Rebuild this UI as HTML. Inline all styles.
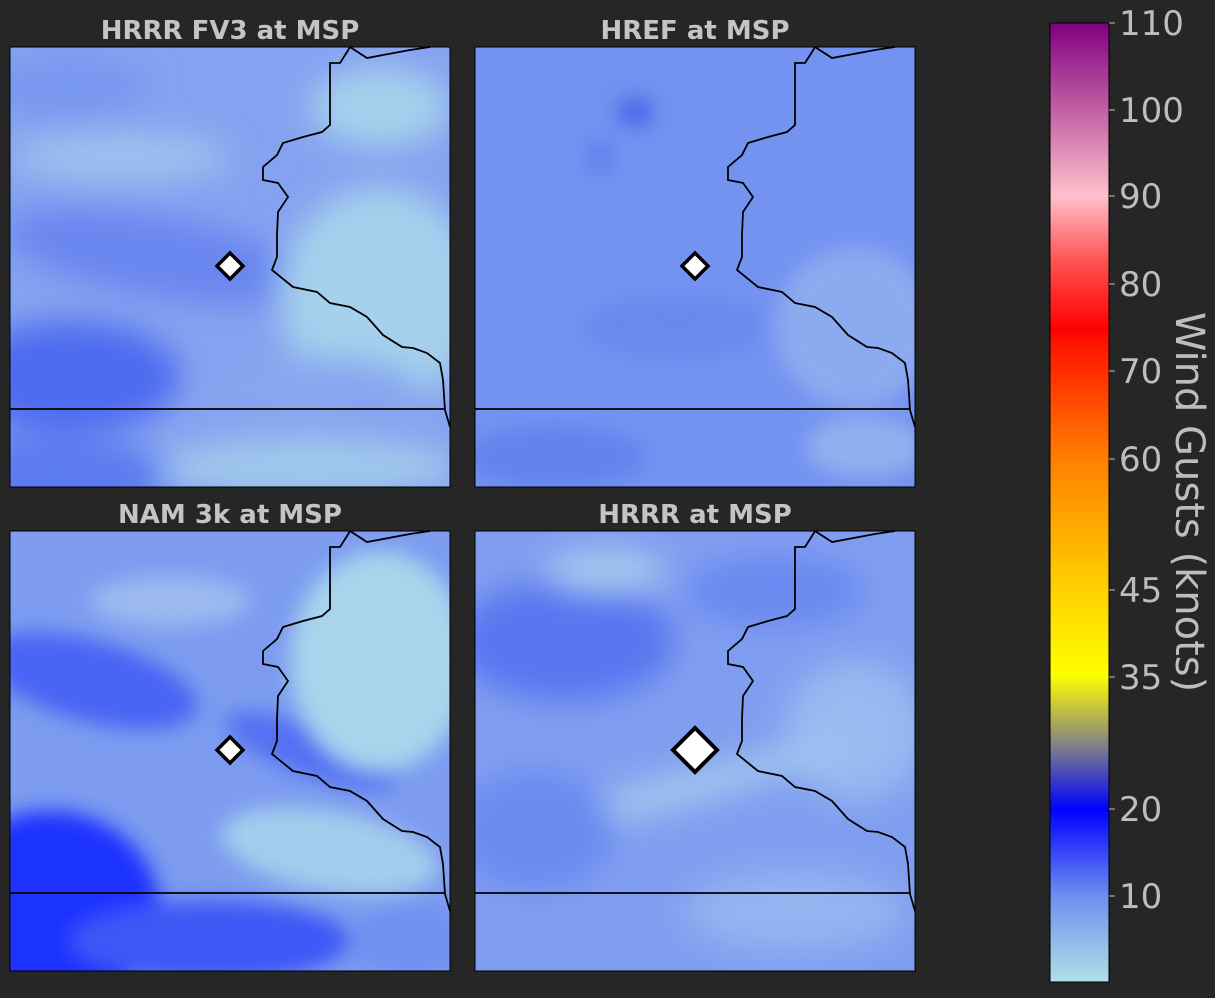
<!DOCTYPE html>
<html><head><meta charset="utf-8">
<style>
html,body{margin:0;padding:0;background:#262626;}
body{width:1215px;height:993px;overflow:hidden;font-family:"Liberation Sans","DejaVu Sans",sans-serif;}
svg text{font-family:"DejaVu Sans","Liberation Sans",sans-serif;}
</style></head>
<body>
<svg width="1215" height="993" viewBox="0 0 1215 993" xmlns="http://www.w3.org/2000/svg">
<defs>
  <filter id="blur" x="-20%" y="-20%" width="140%" height="140%"><feGaussianBlur stdDeviation="16"/></filter>
  <filter id="blur2" x="-20%" y="-20%" width="140%" height="140%"><feGaussianBlur stdDeviation="10"/></filter>
  <clipPath id="clip"><rect x="0" y="0" width="440" height="440"/></clipPath>
  <linearGradient id="cbar" x1="0" y1="1" x2="0" y2="0">
    <stop offset="0" stop-color="#b0e0e6"/>
    <stop offset="0.09" stop-color="#6f8ef0"/>
    <stop offset="0.18" stop-color="#0000ff"/>
    <stop offset="0.245" stop-color="#7e7e8a"/>
    <stop offset="0.32" stop-color="#ffff00"/>
    <stop offset="0.41" stop-color="#ffd000"/>
    <stop offset="0.545" stop-color="#ff8000"/>
    <stop offset="0.67" stop-color="#ff1000"/>
    <stop offset="0.68" stop-color="#ff0000"/>
    <stop offset="0.75" stop-color="#ff5050"/>
    <stop offset="0.82" stop-color="#ffc0cb"/>
    <stop offset="0.9" stop-color="#c86aa8"/>
    <stop offset="1" stop-color="#800080"/>
  </linearGradient>
</defs>

<!-- Panel 1 -->
<g transform="translate(10,47)">
  <g clip-path="url(#clip)">
    <rect width="440" height="440" fill="#85a2f0"/>
    <g filter="url(#blur)">
      <ellipse cx="60" cy="330" rx="110" ry="55" fill="#4e6af0"/>
      <ellipse cx="150" cy="210" rx="160" ry="40" fill="#6a86f0" transform="rotate(10 150 210)"/>
      <ellipse cx="40" cy="430" rx="120" ry="40" fill="#5c7af0"/>
      <ellipse cx="370" cy="250" rx="100" ry="110" fill="#a6d0ec"/>
      <ellipse cx="300" cy="420" rx="150" ry="30" fill="#a0c8ec"/>
      <ellipse cx="110" cy="110" rx="110" ry="25" fill="#a0c0ee"/>
      <ellipse cx="60" cy="40" rx="80" ry="30" fill="#7896f0"/>
      <ellipse cx="370" cy="60" rx="70" ry="40" fill="#a6d0ec"/>
      <ellipse cx="300" cy="340" rx="110" ry="30" fill="#86a6f0"/>
    </g>
  </g>
  <text x="220" y="-8" text-anchor="middle" font-size="26" font-weight="bold" fill="#c4c4c4">HRRR FV3 at MSP</text>
</g>

<!-- Panel 2 -->
<g transform="translate(475,47)">
  <g clip-path="url(#clip)">
    <rect width="440" height="440" fill="#7492f0"/>
    <g filter="url(#blur2)">
      <ellipse cx="160" cy="65" rx="18" ry="14" fill="#4862e6"/>
      <ellipse cx="125" cy="110" rx="14" ry="18" fill="#6280ee"/>
      <ellipse cx="380" cy="280" rx="80" ry="80" fill="#8caaf0"/>
      <ellipse cx="390" cy="400" rx="60" ry="30" fill="#90b0f0"/>
      <ellipse cx="80" cy="410" rx="90" ry="30" fill="#6482ee"/>
      <ellipse cx="200" cy="280" rx="90" ry="30" fill="#6a88ee"/>
    </g>
  </g>
  <text x="220" y="-8" text-anchor="middle" font-size="26" font-weight="bold" fill="#c4c4c4">HREF at MSP</text>
</g>

<!-- Panel 3 -->
<g transform="translate(10,531)">
  <g clip-path="url(#clip)">
    <rect width="440" height="440" fill="#7d9cf0"/>
    <g filter="url(#blur2)">
      <ellipse cx="40" cy="380" rx="110" ry="100" fill="#1e30ff"/>
      <ellipse cx="200" cy="410" rx="140" ry="40" fill="#3c56f6"/>
      <ellipse cx="80" cy="150" rx="110" ry="40" fill="#4a64f4" transform="rotate(15 80 150)"/>
      <ellipse cx="300" cy="220" rx="90" ry="25" fill="#5470f2" transform="rotate(20 300 220)"/>
      <ellipse cx="370" cy="130" rx="90" ry="110" fill="#a8d4ec"/>
      <ellipse cx="320" cy="320" rx="110" ry="40" fill="#a4ccec" transform="rotate(10 320 320)"/>
      <ellipse cx="400" cy="410" rx="60" ry="35" fill="#7090f0"/>
      <ellipse cx="160" cy="70" rx="80" ry="25" fill="#9cbaf0"/>
    </g>
  </g>
  <text x="220" y="-8" text-anchor="middle" font-size="26" font-weight="bold" fill="#c4c4c4">NAM 3k at MSP</text>
</g>

<!-- Panel 4 -->
<g transform="translate(475,531)">
  <g clip-path="url(#clip)">
    <rect width="440" height="440" fill="#809ef0"/>
    <g filter="url(#blur)">
      <ellipse cx="90" cy="110" rx="110" ry="60" fill="#5a76f0"/>
      <ellipse cx="300" cy="60" rx="90" ry="35" fill="#6a88f0"/>
      <ellipse cx="380" cy="200" rx="70" ry="70" fill="#98baf0"/>
      <ellipse cx="200" cy="260" rx="180" ry="16" fill="#a4c8ee" transform="rotate(-15 200 260)"/>
      <ellipse cx="130" cy="40" rx="60" ry="20" fill="#a8ccee"/>
      <ellipse cx="320" cy="380" rx="110" ry="40" fill="#94b4f0"/>
      <ellipse cx="60" cy="300" rx="80" ry="60" fill="#6c8af0"/>
    </g>
  </g>
  <text x="220" y="-8" text-anchor="middle" font-size="26" font-weight="bold" fill="#c4c4c4">HRRR at MSP</text>
</g>

<!-- border overlays -->
<g id="borders" fill="none" stroke="#000" stroke-width="1.8"></g>
<g id="markers"></g>

<!-- colorbar -->
<g>
  <rect x="1050" y="23" width="59" height="959" fill="url(#cbar)" stroke="#000" stroke-width="1"/>
  <g id="cbticks"></g>
  <text transform="translate(1176,502) rotate(90)" text-anchor="middle" font-size="40" fill="#bdbdbd">Wind Gusts (knots)</text>
</g>
</svg>
<script>
const tickValues = [10, 20, 35, 45, 60, 70, 80, 90, 100, 110];
const tickY = v => {
  // piecewise colorbar scale (value -> pixel)
  const vs = [0, 10, 20, 35, 45, 60, 70, 80, 90, 100, 110];
  const ps = [982, 896, 809, 677, 590, 459, 371, 284, 196, 110, 23];
  for (let i = 0; i < vs.length - 1; i++) {
    if (v <= vs[i + 1]) return ps[i] + (v - vs[i]) / (vs[i + 1] - vs[i]) * (ps[i + 1] - ps[i]);
  }
  return 23;
};
const NS = 'http://www.w3.org/2000/svg';
const cb = document.getElementById('cbticks');
tickValues.forEach(v => {
  const y = tickY(v);
  const l = document.createElementNS(NS, 'line');
  l.setAttribute('x1', 1109); l.setAttribute('x2', 1115);
  l.setAttribute('y1', y); l.setAttribute('y2', y);
  l.setAttribute('stroke', '#bdbdbd');
  
  
  cb.appendChild(l);
  const t = document.createElementNS(NS, 'text');
  t.setAttribute('x', 1119); t.setAttribute('y', y + 12);
  t.setAttribute('font-size', '34'); t.setAttribute('fill', '#bdbdbd');
  t.textContent = v;
  
  
  cb.appendChild(t);
});
const border = "M340,0 L337,5 L330,16 L320,16 L320,78 L312,85 L293,90 L273,96 L267,108 L253,120 L253,133 L268,136 L278,150 L268,165 L267,188 L267,210 L262,223 L283,240 L307,245 L320,256 L340,260 L357,270 L373,288 L392,300 L403,301 L417,306 L430,316 L433,333 L435,363 L440,380";
const topCurve = "M340,0 L357,11 L400,3 L420,0";
const offsets = [[10,47],[475,47],[10,531],[475,531]];
const bg = document.getElementById('borders');
const mk = document.getElementById('markers');
offsets.forEach((o, i) => {
  const g = document.createElementNS(NS, 'g');
  g.setAttribute('transform', `translate(${o[0]},${o[1]})`);
  
  
  g.innerHTML = `<path d="${border}"/><path d="${topCurve}"/><line x1="0" y1="362" x2="435" y2="362"/><rect x="0" y="0" width="440" height="440" stroke-width="1"/>`;
  bg.appendChild(g);
  const s = i === 3 ? 22 : 13;
  const d = document.createElementNS(NS, 'path');
  const cx = o[0] + 220, cy = o[1] + 219;
  d.setAttribute('d', `M${cx},${cy - s} L${cx + s},${cy} L${cx},${cy + s} L${cx - s},${cy} Z`);
  d.setAttribute('fill', '#fff'); d.setAttribute('stroke', '#000');
  d.setAttribute('stroke-width', i === 3 ? 4 : 3.5);
  
  
  mk.appendChild(d);
});
</script>
</body></html>
